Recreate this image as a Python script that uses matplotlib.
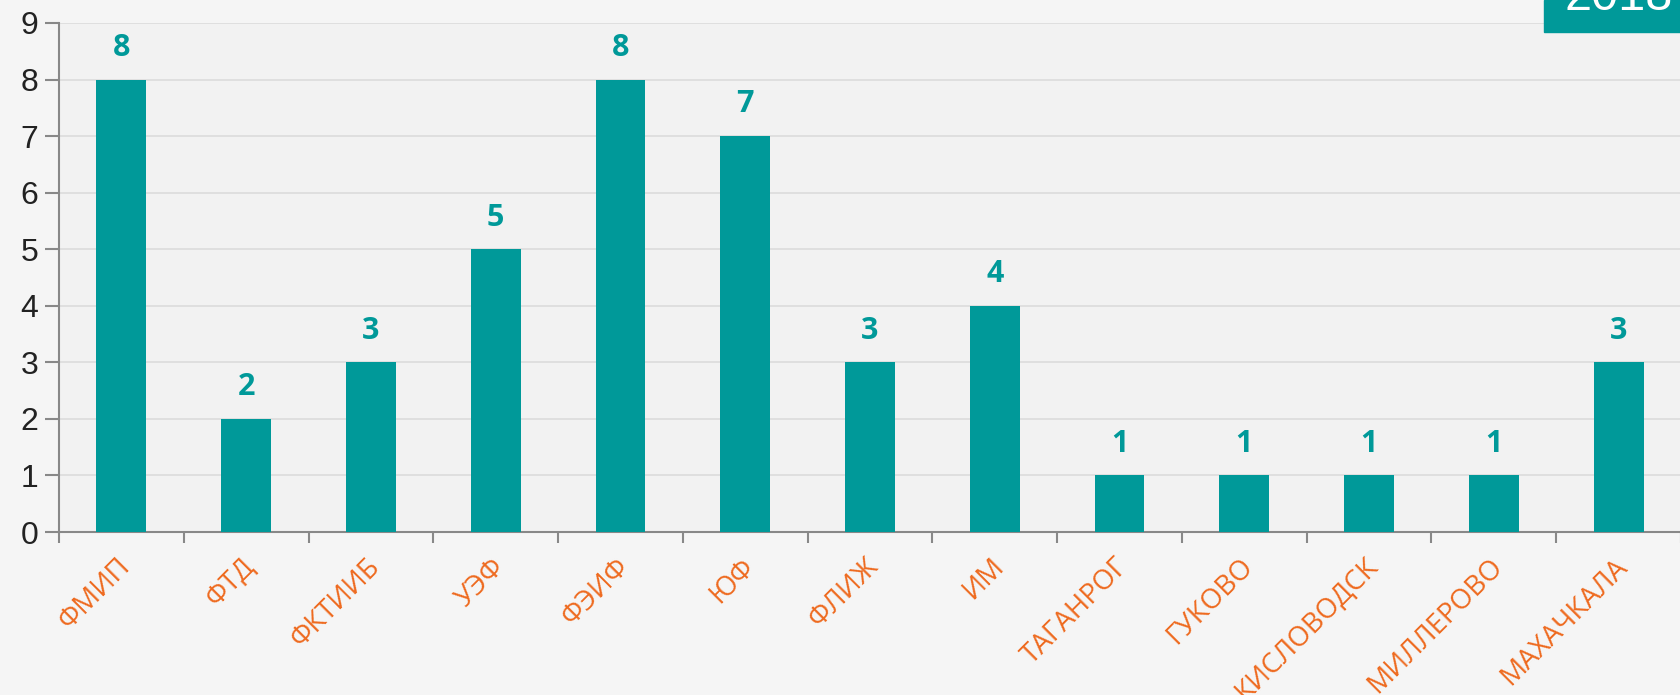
import matplotlib.pyplot as plt
from matplotlib.patches import Rectangle
import numpy as np

# faculties and number of entries
faculties = ["ФМИП", "ФТД", "ФКТИИБ", "УЭФ", "ФЭИФ", "ЮФ", "ФЛИЖ", "ИМ",
             "ТАГАНРОГ", "ГУКОВО", "КИСЛОВОДСК", "МИЛЛЕРОВО", "МАХАЧКАЛА"]
counts = [8, 2, 3, 5, 8, 7, 3, 4, 1, 1, 1, 1, 3]
year = "2018"

teal = "#009999"
orange = "#ee6a1f"

fig = plt.figure(figsize=(16.81, 6.95), dpi=100, facecolor="#f5f5f5")
ax = fig.add_axes([59 / 1681, 1 - 532 / 695, 1 - 59 / 1681, (532 - 23) / 695])
ax.set_facecolor("#f2f2f2")

x = np.arange(len(faculties))
bars = ax.bar(x, counts, width=0.4, color=teal, zorder=3)

for b, v in zip(bars, counts):
    ax.annotate(str(v), (b.get_x() + b.get_width() / 2, v), xytext=(0, 12),
                textcoords="offset points", ha="center", va="bottom",
                fontsize=22, fontweight="bold", color=teal, family="Open Sans")

ax.set_xlim(-0.5, len(faculties) - 0.5)
ax.set_ylim(0, 9)
ax.set_yticks(range(10))
ax.yaxis.grid(True, color="#dcdcdc", linewidth=1.2, zorder=0)

ax.set_xticks(x + 0.04)
ax.set_xticklabels(faculties, rotation=45, ha="right", va="center",
                   rotation_mode="anchor", color=orange, fontsize=20,
                   family="Open Sans")
ax.tick_params(axis="x", length=0, pad=22)
ax.set_xticks(np.arange(-0.5, len(faculties), 1), minor=True)
ax.tick_params(axis="x", which="minor", length=8, width=1.5, color="#888888")
ax.tick_params(axis="y", length=10, width=1.5, color="#888888",
               labelsize=23, labelcolor="#222222", pad=5)
for lbl in ax.get_yticklabels():
    lbl.set_family("Liberation Sans")

for s in ["top", "right"]:
    ax.spines[s].set_visible(False)
for s in ["left", "bottom"]:
    ax.spines[s].set_color("#888888")
    ax.spines[s].set_linewidth(1.5)

# year badge in the corner
fig.patches.append(Rectangle((1544 / 1681, 1 - 32 / 695), 137 / 1681, 32 / 695,
                             transform=fig.transFigure, color=teal, zorder=5))
fig.text(1619 / 1681, 1 - 10 / 695, year, ha="center", va="baseline",
         color="white", fontsize=35, family="Liberation Sans", zorder=6)

fig.savefig("out.png", dpi=100, facecolor=fig.get_facecolor())
